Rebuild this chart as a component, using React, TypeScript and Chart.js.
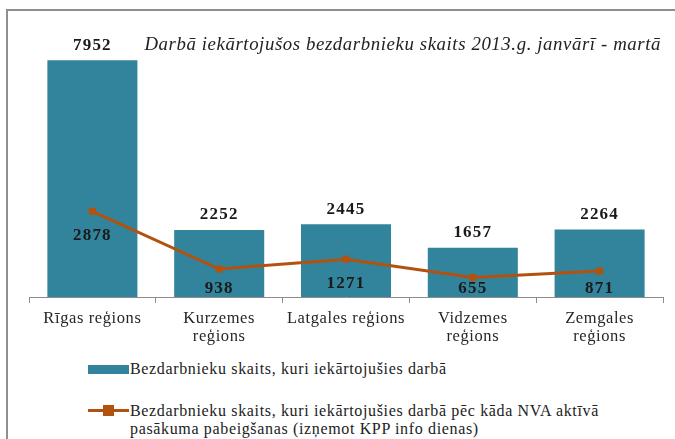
import React, { useEffect, useRef } from "react";
import { Chart, registerables } from "chart.js";

Chart.register(...registerables);

const categories: string[][] = [
  ["Rīgas reģions"],
  ["Kurzemes", "reģions"],
  ["Latgales reģions"],
  ["Vidzemes", "reģions"],
  ["Zemgales", "reģions"],
];
const employedTotal: number[] = [7952, 2252, 2445, 1657, 2264];
const employedAfterMeasure: number[] = [2878, 938, 1271, 655, 871];
const seriesNames: string[] = [
  "Bezdarbnieku skaits, kuri iekārtojušies darbā",
  "Bezdarbnieku skaits, kuri iekārtojušies darbā pēc kāda NVA aktīvā",
  "pasākuma pabeigšanas (izņemot KPP info dienas)",
];
const chartTitle = "Darbā iekārtojušos bezdarbnieku skaits 2013.g. janvārī - martā";

const BAR_COLOR = "#31849B";
const LINE_COLOR = "#B3520F";
const SERIF = '"Liberation Serif", "Times New Roman", serif';

const spacingPlugin = {
  id: "letterSpacing",
  beforeLayout(chart: any) {
    chart.ctx.letterSpacing = "0.6px";
  },
  beforeDraw(chart: any) {
    chart.ctx.letterSpacing = "0.6px";
  },
};

const labelPlugin = {
  id: "valueLabels",
  afterDatasetsDraw(chart: any) {
    const ctx = chart.ctx;
    const area = chart.chartArea;
    ctx.save();
    ctx.font = `bold 17px ${SERIF}`;
    ctx.letterSpacing = "1.2px";
    ctx.fillStyle = "#1a1a1a";
    ctx.textAlign = "center";
    ctx.textBaseline = "middle";
    const barMeta = chart.getDatasetMeta(0);
    barMeta.data.forEach((el: any, i: number) => {
      ctx.fillText(String(employedTotal[i]), el.x, el.y - 15);
    });
    const lineMeta = chart.getDatasetMeta(1);
    lineMeta.data.forEach((el: any, i: number) => {
      const y = Math.min(el.y + 24, area.bottom - 8);
      ctx.fillText(String(employedAfterMeasure[i]), el.x, y);
    });
    // title
    ctx.font = `italic 18.8px ${SERIF}`;
    ctx.letterSpacing = "0.6px";
    ctx.fillStyle = "#222";
    ctx.textAlign = "right";
    ctx.fillText(chartTitle, area.right - 2, 45);
    ctx.restore();
  },
};

export default function App() {
  const canvasRef = useRef<HTMLCanvasElement | null>(null);

  useEffect(() => {
    if (!canvasRef.current) return;
    const chart = new Chart(canvasRef.current, {
      type: "bar",
      data: {
        labels: categories,
        datasets: [
          {
            type: "bar",
            label: seriesNames[0],
            data: employedTotal,
            backgroundColor: BAR_COLOR,
            barPercentage: 0.71,
            categoryPercentage: 1,
            order: 2,
          },
          {
            type: "line",
            label: seriesNames[1],
            data: employedAfterMeasure,
            borderColor: LINE_COLOR,
            backgroundColor: LINE_COLOR,
            borderWidth: 3,
            pointStyle: "rect",
            pointRadius: 5,
            pointBorderWidth: 0,
            tension: 0,
            order: 1,
          } as any,
        ],
      },
      options: {
        animation: false,
        responsive: false,
        maintainAspectRatio: false,
        layout: { padding: { left: 29, right: 12, top: 29, bottom: 0 } },
        plugins: {
          legend: { display: false },
          tooltip: { enabled: false },
          title: { display: false },
        },
        scales: {
          x: {
            offset: true,
            grid: {
              offset: true,
              drawOnChartArea: false,
              tickLength: 6,
              color: "#8c8c8c",
            },
            border: { color: "#8c8c8c", width: 1 },
            ticks: {
              color: "#262626",
              font: { family: SERIF, size: 16.5, lineHeight: 1.12 },
              padding: 6,
              maxRotation: 0,
              autoSkip: false,
            },
            afterFit: (s: any) => {
              s.height = 54;
            },
          },
          y: {
            display: false,
            min: 0,
            max: 9000,
          },
        },
      },
      plugins: [spacingPlugin, labelPlugin],
    });
    return () => chart.destroy();
  }, []);

  const textStyle: React.CSSProperties = {
    position: "absolute",
    fontFamily: SERIF,
    fontSize: 16,
    letterSpacing: "0.65px",
    color: "#222",
    lineHeight: "18px",
    whiteSpace: "nowrap",
  };

  return (
    <div
      style={{
        position: "fixed",
        left: 0,
        top: 0,
        width: 675,
        height: 439,
        overflow: "hidden",
        background: "#fff",
      }}
    >
      <div
        style={{
          position: "absolute",
          left: 6,
          top: 9,
          width: 720,
          height: 500,
          borderLeft: "2px solid #8f8f8f",
          borderTop: "2px solid #8f8f8f",
        }}
      />
      <canvas
        ref={canvasRef}
        width={675}
        height={351}
        style={{ position: "absolute", left: 0, top: 0, width: 675, height: 351 }}
      />
      {/* legend */}
      <div
        style={{
          position: "absolute",
          left: 88,
          top: 365,
          width: 41,
          height: 9,
          background: BAR_COLOR,
        }}
      />
      <div style={{ ...textStyle, left: 130, top: 360 }}>{seriesNames[0]}</div>
      <div
        style={{
          position: "absolute",
          left: 88,
          top: 409,
          width: 41,
          height: 3,
          background: LINE_COLOR,
        }}
      />
      <div
        style={{
          position: "absolute",
          left: 103,
          top: 405,
          width: 11,
          height: 11,
          background: LINE_COLOR,
        }}
      />
      <div style={{ ...textStyle, left: 130, top: 402 }}>
        {seriesNames[1]}
        <br />
        {seriesNames[2]}
      </div>
    </div>
  );
}
